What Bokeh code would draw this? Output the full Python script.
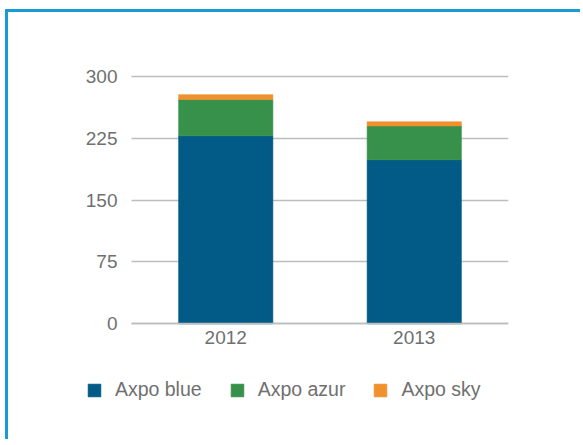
from bokeh.plotting import figure
from bokeh.models import Range1d, FixedTicker, Legend, LegendItem, ColumnDataSource
from bokeh.embed import file_html
from bokeh.resources import INLINE

years = ["2012", "2013"]
axpo_blue = [228, 199]
axpo_azur = [44, 41]
axpo_sky = [6, 5]
series_names = ["Axpo blue", "Axpo azur", "Axpo sky"]
series_keys = ["blue", "azur", "sky"]
colors = ["#025a87", "#37914b", "#f1912e"]
y_ticks = [0, 75, 150, 225, 300]

# category slots: each year gets one unit on the x scale
x_pos = [i + 0.5 for i in range(len(years))]
n_cat = len(years)

source = ColumnDataSource(data=dict(x=x_pos, year=years, blue=axpo_blue,
                                    azur=axpo_azur, sky=axpo_sky))

TEXT = "#707070"
FONT = "Liberation Sans"
GRID = "#bdbdbd"

p = figure(x_range=Range1d(-0.2706, n_cat), y_range=Range1d(-100.3, 329.1),
           width=575, height=430, output_backend="svg", toolbar_location=None,
           min_border_left=72, min_border_right=75, min_border_top=40, min_border_bottom=36,
           styles={"position": "absolute", "left": "5px", "top": "9px",
                   "border-top": "3px solid #169dd8", "border-left": "3px solid #169dd8"})

renderers = p.vbar_stack(series_keys, x="x", width=0.5, fill_color=colors, line_color=colors,
                         line_width=0.6, source=source)

p.outline_line_color = None
p.xgrid.grid_line_color = None
p.ygrid.grid_line_color = GRID
p.ygrid.grid_line_width = 1.5
p.ygrid.ticker = FixedTicker(ticks=y_ticks)
p.ygrid.cross_bounds = (0, n_cat)

p.yaxis.fixed_location = 0
p.yaxis.ticker = FixedTicker(ticks=y_ticks)
p.yaxis.axis_line_color = None
p.yaxis.major_tick_line_color = None
p.yaxis.minor_tick_line_color = None
p.yaxis.major_tick_out = 0
p.yaxis.major_tick_in = 0
p.yaxis.major_label_standoff = 14

p.xaxis.fixed_location = 0
p.xaxis.bounds = (0, n_cat)
p.xaxis.ticker = FixedTicker(ticks=x_pos)
p.xaxis.major_label_overrides = {x: y for x, y in zip(x_pos, years)}
p.xaxis.axis_line_color = GRID
p.xaxis.axis_line_width = 1.5
p.xaxis.major_tick_line_color = None
p.xaxis.minor_tick_line_color = None
p.xaxis.major_tick_out = 0
p.xaxis.major_tick_in = 0
p.xaxis.major_label_standoff = 7

for ax in (p.xaxis, p.yaxis):
    ax.major_label_text_font = FONT
    ax.major_label_text_font_size = "19px"
    ax.major_label_text_color = TEXT

items = [LegendItem(label=n, renderers=[r]) for n, r in zip(series_names, renderers)]
legend = Legend(items=items, orientation="horizontal", location=(5.9, 5),
                glyph_width=16, glyph_height=16, label_standoff=13, spacing=27,
                padding=0, margin=0, border_line_color=None, background_fill_alpha=0,
                label_text_font=FONT, label_text_font_size="19.5px", label_text_color=TEXT)
p.add_layout(legend, "center")

open("out.html", "w").write(file_html(p, INLINE))
